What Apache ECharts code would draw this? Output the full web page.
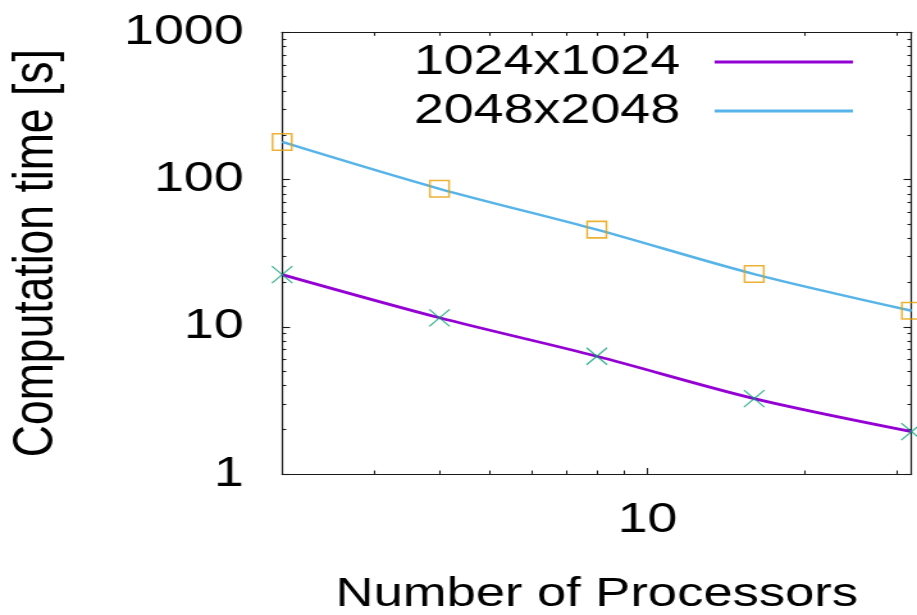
<!DOCTYPE html>
<html>
<head>
<meta charset="utf-8">
<title>Computation time vs. number of processors</title>
<script src="https://cdn.jsdelivr.net/npm/echarts@6/dist/echarts.min.js"></script>
<style>
  html, body { margin: 0; padding: 0; background: #fff; overflow: hidden; }
  /* the plot is laid out at a narrower width and widened horizontally */
  #chart { width: 716px; height: 615px; transform: scale(1.28073, 1); transform-origin: 0 0; }
</style>
</head>
<body>
<div id="chart"></div>
<script>
// Measured run times (seconds) per processor count
const processors = [2, 4, 8, 16, 32];
const time1024 = [22.6, 11.5, 6.3, 3.25, 1.94];
const time2048 = [180, 86.5, 45.7, 22.8, 12.85];
const seriesNames = ['1024x1024', '2048x2048'];

// Tick positions for the log axes
const xMajorTicks = [10];
const xMinorTicks = [3, 4, 5, 6, 7, 8, 9, 20, 30];
const yMajorTicks = [1, 10, 100, 1000];
const yMinorTicks = [2, 3, 4, 5, 6, 7, 8, 9, 20, 30, 40, 50, 60, 70, 80, 90, 200, 300, 400, 500, 600, 700, 800, 900];

const FONT = 'Liberation Sans';
const FRAME = '#1a1a1a';
const C_1024 = '#9400d3';
const C_2048 = '#56b4e9';
const C_CROSS = '#009e73';
const C_SQUARE = '#e69f00';

const chart = echarts.init(document.getElementById('chart'), null, { renderer: 'canvas' });

const plainNumber = v => String(Math.round(v));

function xAxisDef(position, ticks, len, withLine, withLabel) {
  const a = {
    type: 'log', logBase: 10, min: 2, max: 32, position: position,
    splitLine: { show: false }, minorTick: { show: false }, minorSplitLine: { show: false },
    axisLine: { show: withLine, onZero: false, lineStyle: { color: FRAME, width: 1.2 } },
    axisTick: { show: true, inside: true, length: len, customValues: ticks, lineStyle: { color: FRAME, width: 1.1 } },
    axisLabel: { show: false }
  };
  if (withLabel) {
    a.axisLabel = { show: true, customValues: xMajorTicks, formatter: plainNumber, margin: 25, color: '#000', fontFamily: FONT, fontSize: 42 };
    a.name = 'Number of Processors';
    a.nameLocation = 'middle';
    a.nameGap = 100;
    a.nameTextStyle = { color: '#000', fontFamily: FONT, fontSize: 41 };
  }
  return a;
}

function yAxisDef(position, ticks, len, withLine, withLabel) {
  const a = {
    type: 'log', logBase: 10, min: 1, max: 1000, position: position,
    splitLine: { show: false }, minorTick: { show: false }, minorSplitLine: { show: false },
    axisLine: { show: withLine, onZero: false, lineStyle: { color: FRAME, width: 1.2 } },
    axisTick: { show: true, inside: true, length: len, customValues: ticks, lineStyle: { color: FRAME, width: 1.1 } },
    axisLabel: { show: false }
  };
  if (withLabel) {
    a.axisLabel = { show: true, customValues: yMajorTicks, formatter: plainNumber, margin: 30, color: '#000', fontFamily: FONT, fontSize: 42, padding: [0, 0, 8, 0] };
    a.name = 'Computation time [s]';
    a.nameLocation = 'middle';
    a.nameGap = 169;
    a.nameTextStyle = { color: '#000', fontFamily: FONT, fontSize: 44.5 };
  }
  return a;
}

const pairs1024 = processors.map((p, i) => [p, time1024[i]]);
const pairs2048 = processors.map((p, i) => [p, time2048[i]]);

const option = {
  animation: false,
  backgroundColor: '#fff',
  textStyle: { fontFamily: FONT },
  grid: { left: 220.3, right: 4.3, top: 32.3, bottom: 141, containLabel: false, outerBoundsMode: 'none' },
  legend: {
    data: seriesNames.map(n => ({ name: n, icon: 'rect' })),
    orient: 'vertical',
    right: 45,
    top: 36,
    align: 'right',
    itemWidth: 108,
    itemHeight: 2.8,
    itemGap: 7,
    selectedMode: false,
    textStyle: { color: '#000', fontFamily: FONT, fontSize: 42, padding: [0, 22, 5, 0] }
  },
  xAxis: [
    xAxisDef('bottom', xMajorTicks, 6, true, true),
    xAxisDef('bottom', xMinorTicks, 3.5, false, false),
    xAxisDef('top', xMajorTicks, 6, true, false),
    xAxisDef('top', xMinorTicks, 3.5, false, false)
  ],
  yAxis: [
    yAxisDef('left', yMajorTicks, 6.2, true, true),
    yAxisDef('left', yMinorTicks, 3.2, false, false),
    yAxisDef('right', yMajorTicks, 6.2, true, false),
    yAxisDef('right', yMinorTicks, 3.2, false, false)
  ],
  series: [
    {
      name: seriesNames[0], type: 'line', data: pairs1024,
      smooth: 0.3, showSymbol: false, symbol: 'none',
      lineStyle: { color: C_1024, width: 2.7 }, itemStyle: { color: C_1024 }, z: 2
    },
    {
      name: seriesNames[1], type: 'line', data: pairs2048,
      smooth: 0.3, showSymbol: false, symbol: 'none',
      lineStyle: { color: C_2048, width: 2.5 }, itemStyle: { color: C_2048 }, z: 2
    },
    {
      name: 'points1024', type: 'scatter', data: pairs1024,
      symbol: 'path://M0,0L10,10M10,0L0,10', symbolSize: [16, 17], symbolKeepAspect: false,
      itemStyle: { color: 'rgba(0,0,0,0)', borderColor: C_CROSS, borderWidth: 1.2 },
      clip: false, z: 3
    },
    {
      name: 'points2048', type: 'scatter', data: pairs2048,
      symbol: 'rect', symbolSize: [15, 16.5],
      itemStyle: { color: 'rgba(0,0,0,0)', borderColor: C_SQUARE, borderWidth: 1.5 },
      clip: false, z: 3
    }
  ]
};

chart.setOption(option);
</script>
</body>
</html>
